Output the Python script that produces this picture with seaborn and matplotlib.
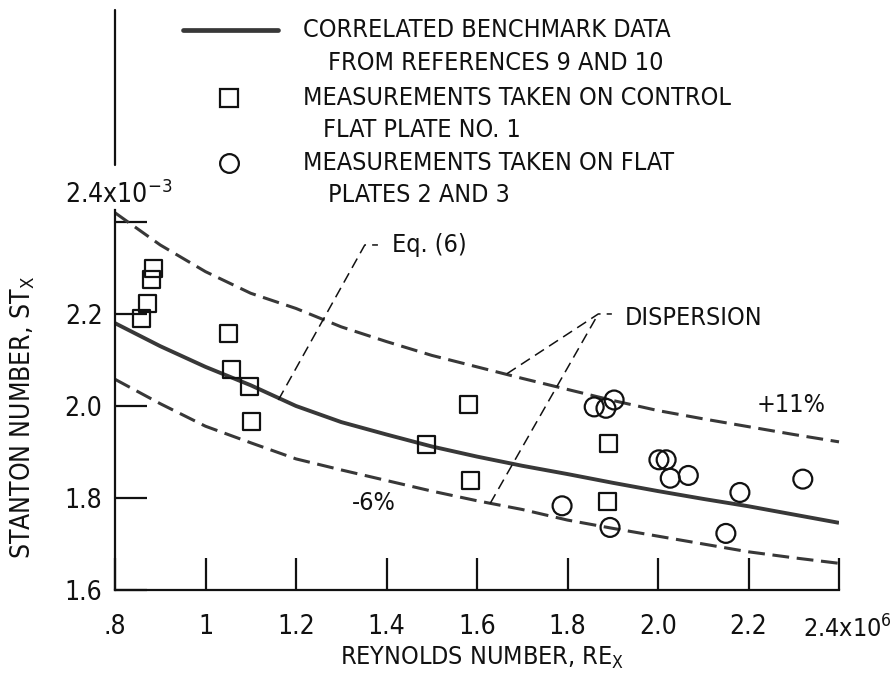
import numpy as np
import pandas as pd
import matplotlib
matplotlib.use("Agg")
import matplotlib.pyplot as plt
from matplotlib import font_manager as fm
import seaborn as sns

# ---------------- data ----------------
re_curve = [0.8, 0.9, 1.0, 1.1, 1.2, 1.3, 1.4, 1.5, 1.6, 1.7, 1.8, 1.9, 2.0, 2.1, 2.2, 2.3, 2.4]
st_correlated = [2.180, 2.130, 2.085, 2.045, 2.000, 1.965, 1.938, 1.912, 1.890, 1.870,
                 1.852, 1.833, 1.815, 1.798, 1.782, 1.764, 1.746]
st_plus11 = [2.420, 2.350, 2.292, 2.245, 2.212, 2.172, 2.140, 2.110, 2.085, 2.060,
             2.036, 2.012, 1.990, 1.972, 1.955, 1.938, 1.922]
st_minus6 = [2.058, 2.005, 1.956, 1.920, 1.885, 1.861, 1.838, 1.815, 1.794, 1.775,
             1.752, 1.734, 1.717, 1.700, 1.683, 1.670, 1.658]

plate1_re = [0.885, 0.881, 0.871, 0.859, 1.050, 1.058, 1.098, 1.102, 1.489, 1.581, 1.585, 1.890, 1.889]
plate1_st = [2.299, 2.274, 2.223, 2.191, 2.157, 2.080, 2.042, 1.967, 1.917, 2.004, 1.839, 1.919, 1.792]

plate23_re = [1.788, 1.859, 1.885, 1.903, 2.002, 2.018, 2.027, 2.067, 2.181, 2.320, 1.894, 2.150]
plate23_st = [1.783, 1.998, 1.995, 2.013, 1.883, 1.883, 1.843, 1.849, 1.812, 1.841, 1.736, 1.723]

x_ticks = [0.8, 1.0, 1.2, 1.4, 1.6, 1.8, 2.0, 2.2, 2.4]
x_ticklabels = [".8", "1", "1.2", "1.4", "1.6", "1.8", "2.0", "2.2", ""]
y_ticks = [1.6, 1.8, 2.0, 2.2, 2.4]
y_ticklabels = ["1.6", "1.8", "2.0", "2.2", ""]

legend_texts = [
    ("CORRELATED BENCHMARK DATA", "FROM REFERENCES 9 AND 10"),
    ("MEASUREMENTS TAKEN ON CONTROL", "FLAT PLATE NO. 1"),
    ("MEASUREMENTS TAKEN ON FLAT", "PLATES 2 AND 3"),
]

# ---------------- style ----------------
sns.set_theme(style="white")
names = {f.name for f in fm.fontManager.ttflist}
if "Liberation Sans Narrow" in names:
    fam, stretch = "Liberation Sans Narrow", "normal"
else:
    fam, stretch = "DejaVu Sans", "condensed"
plt.rcParams["font.family"] = [fam, "DejaVu Sans"]
plt.rcParams["font.stretch"] = stretch
plt.rcParams["mathtext.default"] = "regular"

W, H = 892, 682
fig = plt.figure(figsize=(W / 100, H / 100), dpi=100)
fig.patch.set_facecolor("white")


def fx(px):
    return px / W


def fy(py):
    return 1 - py / H


ax = fig.add_axes([fx(115), fy(590), (839 - 115) / W, (590 - 210) / H])
ax.set_facecolor("white")

LINE_C = "#383838"
INK = "#111111"
TICK_FS = 19

curves = pd.DataFrame({"re": re_curve, "corr": st_correlated,
                       "up": st_plus11, "lo": st_minus6})

sns.lineplot(data=curves, x="re", y="corr", ax=ax, color=LINE_C, linewidth=2.8,
             solid_capstyle="butt")
for col in ["up", "lo"]:
    sns.lineplot(data=curves, x="re", y=col, ax=ax, color=LINE_C, linewidth=2.2)
    ax.lines[-1].set_dashes((5.5, 2.5))
    ax.lines[-1].set_clip_on(False)

sns.scatterplot(x=plate1_re, y=plate1_st, ax=ax, marker="s", s=150,
                facecolor="none", edgecolor=INK, linewidth=1.6, zorder=5)
sns.scatterplot(x=plate23_re, y=plate23_st, ax=ax, marker="o", s=185,
                facecolor="none", edgecolor=INK, linewidth=1.6, zorder=5)

ax.set_xlim(0.8, 2.4)
ax.set_ylim(1.6, 2.426)
ax.set_xticks(x_ticks)
ax.set_xticklabels(x_ticklabels)
ax.set_yticks(y_ticks)
ax.set_yticklabels(y_ticklabels)
ax.tick_params(axis="both", which="major", bottom=True, left=True,
               direction="in", length=23, width=1.6, color=INK,
               labelsize=TICK_FS, labelcolor=INK)
ax.tick_params(axis="x", pad=17)
ax.tick_params(axis="y", pad=9)
ax.set_xlabel("")
ax.set_ylabel("")
for s in ["top", "right"]:
    ax.spines[s].set_visible(False)
for s in ["left", "bottom"]:
    ax.spines[s].set_color(INK)
    ax.spines[s].set_linewidth(1.6)

# right-end x tick label with multiplier
ax.annotate(r"2.4x10$^{6}$", xy=(2.4, 0), xycoords=("data", "axes fraction"),
            xytext=(-26, -34), textcoords="offset points", ha="left", va="baseline",
            fontsize=TICK_FS - 1, color=INK, annotation_clip=False)

# upper part of the left axis line (above the 2.4x10^-3 label)
ax.plot([0, 0], [2.524, 2.861], transform=ax.get_yaxis_transform(),
        color=INK, linewidth=1.6, clip_on=False)
fig.text(fx(172), fy(203), r"2.4x10$^{-3}$", ha="right", va="baseline",
         fontsize=TICK_FS, color=INK)

# axis titles
fig.text(fx(482), fy(658), r"REYNOLDS NUMBER, RE$_{X}$", ha="center", va="center",
         fontsize=18, color=INK)
fig.text(fx(23), fy(417), r"STANTON NUMBER, ST$_{X}$", ha="center", va="center",
         rotation=90, fontsize=19, color=INK)

# leader lines and annotations
lead = dict(color=INK, linewidth=1.1, dashes=(7, 4), clip_on=False)
ax.plot([1.161, 1.352, 1.381], [2.013, 2.350, 2.350], **lead)
ax.text(1.412, 2.350, "Eq. (6)", ha="left", va="center", fontsize=18, color=INK)
ax.plot([1.666, 1.868, 1.898], [2.070, 2.200, 2.200], **lead)
ax.plot([1.629, 1.868], [1.788, 2.200], **lead)
ax.text(1.927, 2.191, "DISPERSION", ha="left", va="center", fontsize=18, color=INK)
ax.text(2.219, 2.002, "+11%", ha="left", va="center", fontsize=18, color=INK)
ax.text(1.324, 1.789, "-6%", ha="left", va="center", fontsize=18, color=INK)

# legend (drawn manually to mimic the original layout)
fig.add_artist(plt.Line2D([fx(183), fx(278)], [fy(30), fy(30)], color=LINE_C,
                          linewidth=3.4, transform=fig.transFigure))
fig.add_artist(plt.Line2D([fx(229)], [fy(98)], marker="s", markersize=13,
                          markerfacecolor="none", markeredgecolor=INK,
                          markeredgewidth=1.6, linestyle="none",
                          transform=fig.transFigure))
fig.add_artist(plt.Line2D([fx(229)], [fy(163)], marker="o", markersize=13.5,
                          markerfacecolor="none", markeredgecolor=INK,
                          markeredgewidth=1.6, linestyle="none",
                          transform=fig.transFigure))
rows = [(30, 63, 328), (98, 130, 323), (163, 195, 328)]
for (l1, l2), (y1, y2, x2) in zip(legend_texts, rows):
    fig.text(fx(303), fy(y1), l1, ha="left", va="center", fontsize=18, color=INK)
    fig.text(fx(x2), fy(y2), l2, ha="left", va="center", fontsize=18, color=INK)

fig.savefig("out.png", dpi=100, facecolor="white")
